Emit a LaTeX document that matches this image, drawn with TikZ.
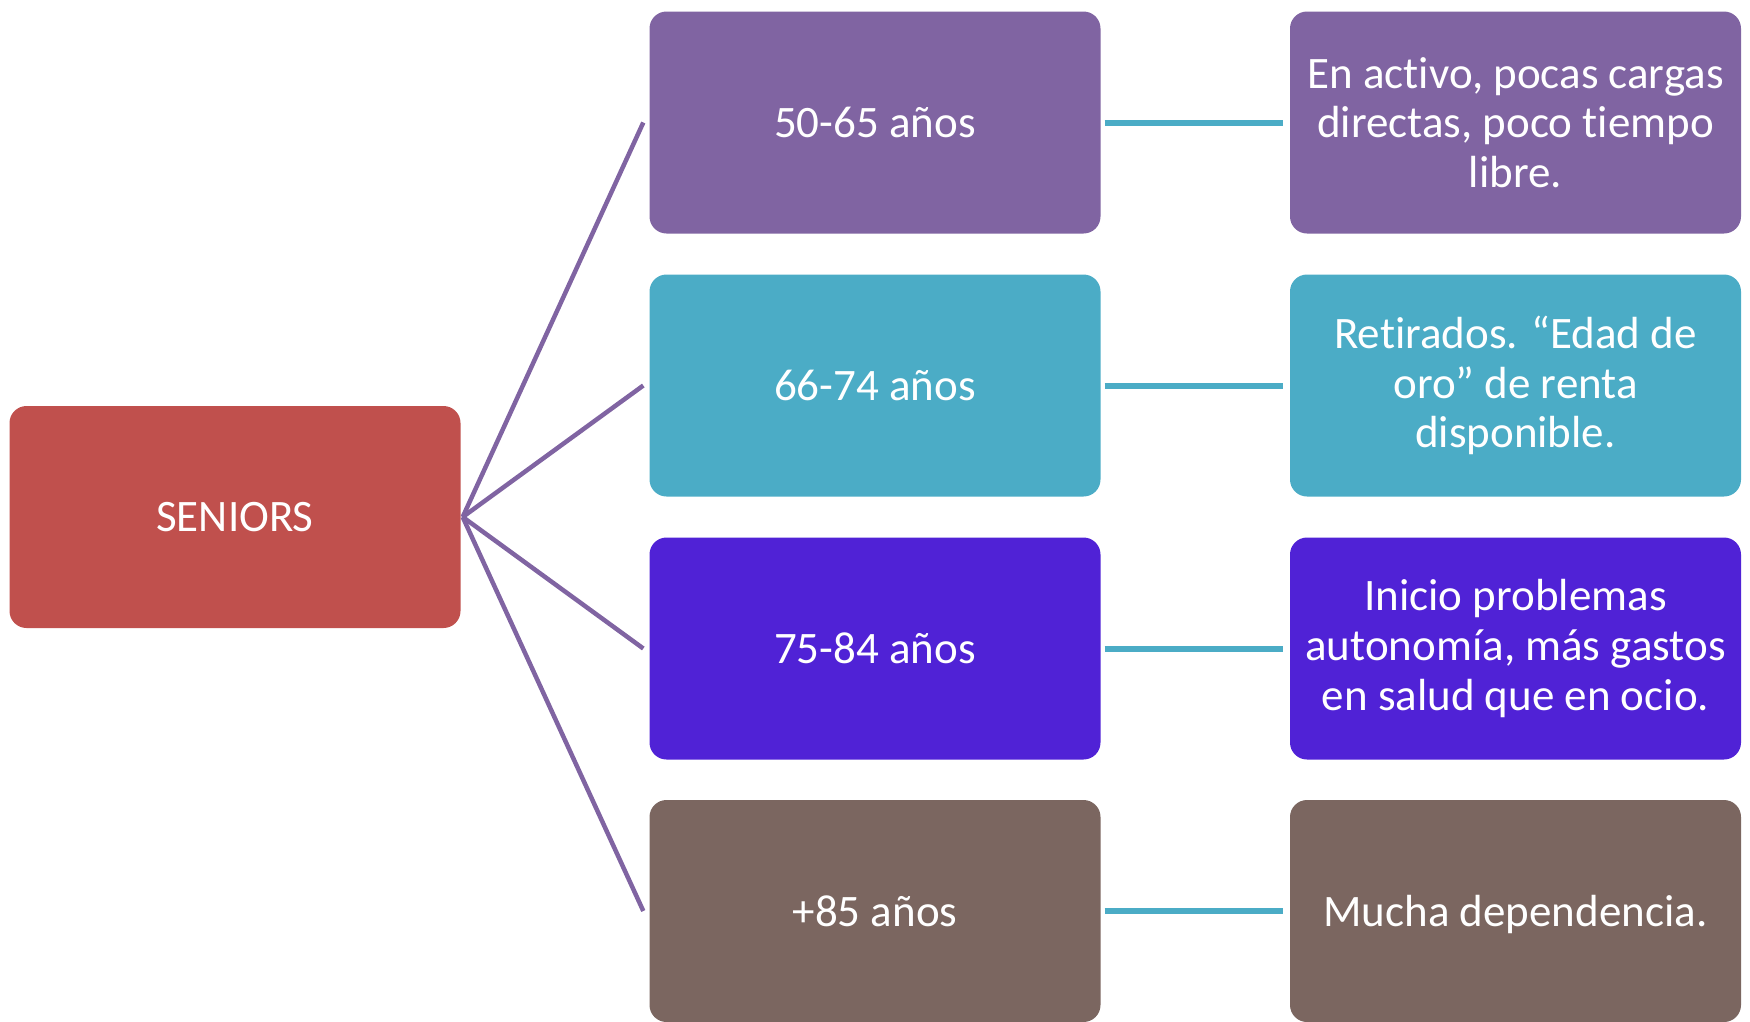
\documentclass[tikz,border=0pt]{standalone}
\usepackage{fontspec}
\setmainfont{Carlito}[RawFeature={-liga;-clig;-dlig;-calt}]
\definecolor{cred}{HTML}{C0504D}
\definecolor{cpurple}{HTML}{8064A2}
\definecolor{cteal}{HTML}{4BACC6}
\definecolor{cviolet}{HTML}{5022D6}
\definecolor{cbrown}{HTML}{7B6660}
\begin{document}
\begin{tikzpicture}[x=1pt,y=-1pt,
  box/.style={rectangle, rounded corners=17pt, minimum width=451pt, minimum height=222pt,
    text=white, font=\fontsize{45}{49.7}\selectfont, align=center, inner sep=0pt},
  fan/.style={draw=cpurple, line width=4.5pt},
  link/.style={draw=cteal, line width=6pt, shorten <=4pt, shorten >=7pt}]
\useasboundingbox (0,0) rectangle (1750,1021);
\node[box, fill=cred] (s) at (235,517) {SENIORS};
\node[box, fill=cpurple] (a1) at (875,122.5) {50-65 años};
\node[box, fill=cteal] (a2) at (875,385.5) {66-74 años};
\node[box, fill=cviolet] (a3) at (875,648.5) {75-84 años};
\node[box, fill=cbrown] (a4) at (875,911) {+85 años};
\node[box, fill=cpurple] (b1) at (1515.5,122.5) {En activo, pocas cargas\\directas, poco tiempo\\libre.};
\node[box, fill=cteal] (b2) at (1515.5,385.5) {Retirados. “Edad de\\oro” de renta\\disponible.};
\node[box, fill=cviolet] (b3) at (1515.5,648.5) {Inicio problemas\\autonomía, más gastos\\en salud que en ocio.};
\node[box, fill=cbrown] (b4) at (1515.5,911) {\raisebox{0pt}[\height][0pt]{Mucha dependencia.}};
\foreach \i in {1,2,3,4}{
  \draw[fan] ([xshift=2pt]s.east) -- ([xshift=-6pt]a\i.west);
  \draw[link] (a\i.east) -- (b\i.west);
}
\end{tikzpicture}
\end{document}
